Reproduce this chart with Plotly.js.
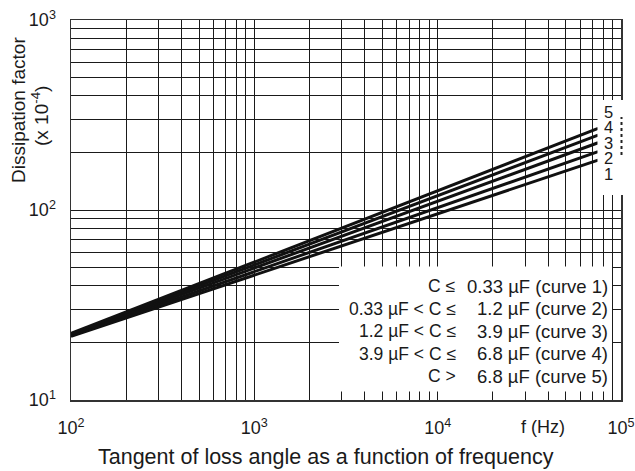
<!DOCTYPE html>
<html>
<head>
<meta charset="utf-8">
<script src="https://cdn.plot.ly/plotly-3.0.1.min.js"></script>
<style>
  html, body { margin: 0; padding: 0; background: #fff; }
  #chart { width: 635px; height: 471px; }
</style>
</head>
<body>
<div id="chart"></div>
<script>
// ---- data ----
const freq = [100, 75000];               // Hz, start and end of each curve
const curve1 = [21.6, 183];              // C <= 0.33 uF
const curve2 = [21.8, 203];              // 0.33 < C <= 1.2 uF
const curve3 = [22.0, 226];              // 1.2 < C <= 3.9 uF
const curve4 = [22.2, 248];              // 3.9 < C <= 6.8 uF
const curve5 = [22.4, 269];              // C > 6.8 uF
const curveNames = ['1', '2', '3', '4', '5'];

const xTickVals = [];
const xTickText = [];
[100, 1000, 10000].forEach(function (d) {
  for (let k = 1; k <= 9; k++) {
    xTickVals.push(k * d);
    xTickText.push(k === 1 ? '10<sup>' + Math.round(Math.log10(d)) + '</sup>' : '');
  }
});
xTickVals.push(100000); xTickText.push('10<sup>5</sup>');

const yTickVals = [];
const yTickText = [];
[10, 100].forEach(function (d) {
  for (let k = 1; k <= 9; k++) {
    yTickVals.push(k * d);
    yTickText.push(k === 1 ? '10<sup>' + Math.round(Math.log10(d)) + '</sup>' : '');
  }
});
yTickVals.push(1000); yTickText.push('10<sup>3</sup>');

const legendLeft = ['C ≤', '0.33 µF < C ≤', '1.2 µF < C ≤', '3.9 µF < C ≤', 'C >'];
const legendRight = ['0.33 µF (curve 1)', '1.2 µF (curve 2)', '3.9 µF (curve 3)', '6.8 µF (curve 4)', '6.8 µF (curve 5)'];
const endLabels = ['5', '4', '3', '2', '1'];

// ---- layout helpers (pixel -> paper) ----
const L = 71, R = 621, T = 20, B = 400;
const px = function (x) { return (x - L) / (R - L); };
const py = function (y) { return (B - y) / (B - T); };

const FONT = 'Liberation Sans, Arial, Helvetica, sans-serif';
const INK = '#1a1a1a';

const series = [curve1, curve2, curve3, curve4, curve5];
const traces = series.map(function (ys, i) {
  return {
    x: freq, y: ys, type: 'scatter', mode: 'lines', name: curveNames[i],
    line: { color: '#111', width: 3 }, hoverinfo: 'skip'
  };
});

const annotations = [];
const legendRows = [286, 308.5, 331, 353.5, 376];
legendRows.forEach(function (yy, i) {
  annotations.push({ xref: 'paper', yref: 'paper', x: px(610), y: py(yy), xanchor: 'right', yanchor: 'middle',
    text: legendRight[i], showarrow: false, font: { family: FONT, size: 18.5, color: INK } });
  annotations.push({ xref: 'paper', yref: 'paper', x: px(458), y: py(yy), xanchor: 'right', yanchor: 'middle',
    text: legendLeft[i], showarrow: false, font: { family: FONT, size: 17.5, color: INK } });
});
const endRows = [112, 127, 142.5, 158, 174];
endRows.forEach(function (yy, i) {
  annotations.push({ xref: 'paper', yref: 'paper', x: px(608), y: py(yy), xanchor: 'center', yanchor: 'middle',
    text: endLabels[i], showarrow: false, font: { family: FONT, size: 16.5, color: INK } });
});
annotations.push({ xref: 'paper', yref: 'paper', x: px(543), y: py(427), xanchor: 'center', yanchor: 'middle',
  text: 'f (Hz)', showarrow: false, font: { family: FONT, size: 18, color: INK } });
annotations.push({ xref: 'paper', yref: 'paper', x: px(326), y: py(457), xanchor: 'center', yanchor: 'middle',
  text: 'Tangent of loss angle as a function of frequency', showarrow: false, font: { family: FONT, size: 21.5, color: INK } });
annotations.push({ xref: 'paper', yref: 'paper', x: px(19), y: py(110), xanchor: 'center', yanchor: 'middle',
  text: 'Dissipation factor', textangle: -90, showarrow: false, font: { family: FONT, size: 19, color: INK } });
annotations.push({ xref: 'paper', yref: 'paper', x: px(40), y: py(116), xanchor: 'center', yanchor: 'middle',
  text: '(x 10<sup>-4</sup>)', textangle: -90, showarrow: false, font: { family: FONT, size: 19, color: INK } });

const shapes = [
  // legend box blanking the grid (leaves short stubs at bottom and right like the reference)
  { type: 'rect', xref: 'paper', yref: 'paper', layer: 'above',
    x0: px(339), x1: px(612), y0: py(391.5), y1: py(266.5), fillcolor: '#fff', line: { width: 0 } },
  // blank area for the curve numbers
  { type: 'rect', xref: 'paper', yref: 'paper', layer: 'above',
    x0: px(597.5), x1: px(626), y0: py(195), y1: py(100), fillcolor: '#fff', line: { width: 0 } },
  { type: 'line', xref: 'paper', yref: 'paper', layer: 'above',
    x0: px(621.5), x1: px(621.5), y0: py(155), y1: py(117), line: { color: '#222', width: 2, dash: 'dot' } }
];

const axisCommon = {
  type: 'log', showgrid: true, gridcolor: '#1a1a1a', gridwidth: 1,
  zeroline: false, showline: true, linecolor: '#333', linewidth: 1.5, mirror: true,
  ticks: '', tickmode: 'array', tickfont: { family: FONT, size: 18, color: INK }, fixedrange: true
};

const layout = {
  width: 635, height: 471,
  margin: { l: L, r: 635 - R, t: T, b: 471 - B, pad: 0 },
  paper_bgcolor: '#fff', plot_bgcolor: '#fff',
  showlegend: false,
  xaxis: Object.assign({}, axisCommon, { range: [2, 5], tickvals: xTickVals, ticktext: xTickText, ticklabelstandoff: 11 }),
  yaxis: Object.assign({}, axisCommon, { range: [1, 3], tickvals: yTickVals, ticktext: yTickText, ticklabelstandoff: 10 }),
  annotations: annotations,
  shapes: shapes
};

Plotly.newPlot('chart', traces, layout, { displayModeBar: false, staticPlot: true });
</script>
</body>
</html>
